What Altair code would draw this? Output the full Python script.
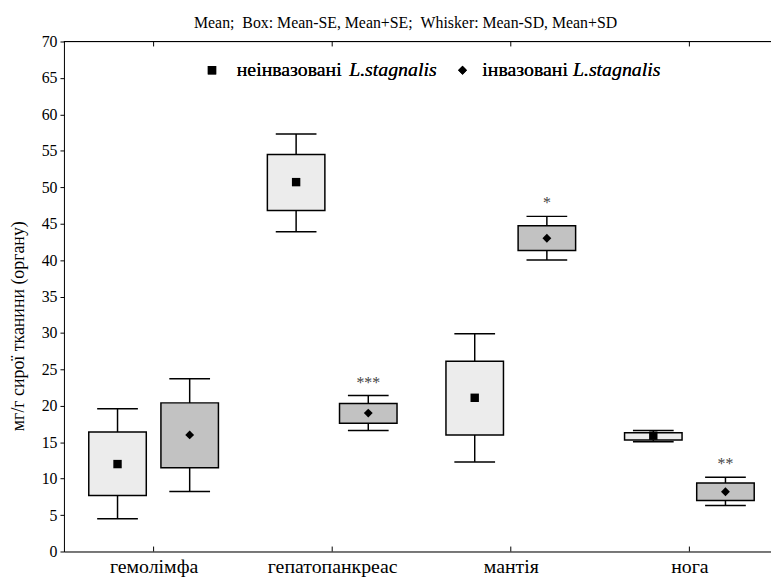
import json
import altair as alt
import pandas as pd

# ---------------- data ----------------
organs = ["гемолімфа", "гепатопанкреас", "мантія", "нога"]
groups = ["неінвазовані", "інвазовані"]

mean_n = [12.0, 50.7, 21.1, 15.9]
se_lo_n = [7.7, 46.8, 16.0, 15.3]
se_hi_n = [16.4, 54.5, 26.1, 16.3]
sd_lo_n = [4.5, 43.9, 12.3, 15.05]
sd_hi_n = [19.6, 57.3, 29.9, 16.6]

mean_i = [16.0, 19.0, 43.0, 8.2]
se_lo_i = [11.5, 17.6, 41.3, 7.0]
se_hi_i = [20.4, 20.3, 44.7, 9.4]
sd_lo_i = [8.25, 16.6, 40.0, 6.3]
sd_hi_i = [23.7, 21.4, 46.0, 10.2]

stars_n = ["", "", "", ""]
stars_i = ["", "***", "*", "**"]

# ---------------- layout constants ----------------
W, H = 714, 515
OFFSET = 0.202      # group offset from category centre (x units)
BOX_HALF = 0.161    # half box width (x units)
CAP_HALF = 0.114    # half whisker-cap width (x units)
XDOM = [-0.502, 3.457]
FONT = "Liberation Serif"

rows = []
for gi, (g, m, sl, sh, dl, dh, st) in enumerate([
    (groups[0], mean_n, se_lo_n, se_hi_n, sd_lo_n, sd_hi_n, stars_n),
    (groups[1], mean_i, se_lo_i, se_hi_i, sd_lo_i, sd_hi_i, stars_i),
]):
    sign = -1 if gi == 0 else 1
    for k, organ in enumerate(organs):
        xc = k + sign * OFFSET
        rows.append(dict(group=g, organ=organ, xc=xc,
                         bx0=xc - BOX_HALF, bx1=xc + BOX_HALF,
                         cx0=xc - CAP_HALF, cx1=xc + CAP_HALF,
                         mean=m[k], se_lo=sl[k], se_hi=sh[k],
                         sd_lo=dl[k], sd_hi=dh[k], star=st[k]))
df = pd.DataFrame(rows)
ticks_df = pd.DataFrame({"pos": list(range(len(organs)))})

xscale = alt.Scale(domain=XDOM, nice=False, zero=False)
yscale = alt.Scale(domain=[0, 70], nice=False)
label_expr = json.dumps(organs, ensure_ascii=False) + "[datum.value]"

xaxis = alt.Axis(values=list(range(len(organs))), labelExpr=label_expr, title=None,
                 grid=False, ticks=False, domainColor="black", domainWidth=1,
                 labelFont=FONT, labelFontSize=20, labelColor="black", labelPadding=5)
yaxis = alt.Axis(values=list(range(0, 71, 5)), tickCount=15, title="мг/г сирої тканини (органу)",
                 grid=False, tickSize=4, tickColor="black", domainColor="black",
                 labelOverlap=False,
                 labelFont=FONT, labelFontSize=16, labelColor="black", labelPadding=3,
                 titleFont=FONT, titleFontSize=18, titleFontWeight="normal",
                 titleColor="black", titlePadding=14, titleY=287)


def X(field):
    return alt.X(field, type="quantitative", scale=xscale, axis=xaxis)


def Y(field):
    return alt.Y(field, type="quantitative", scale=yscale, axis=yaxis)


base = alt.Chart(df)

whisker = base.mark_rule(color="black", strokeWidth=1.5).encode(
    x=X("xc"), y=Y("sd_lo"), y2="sd_hi:Q")
cap_hi = base.mark_rule(color="black", strokeWidth=1.5).encode(
    x=X("cx0"), x2="cx1:Q", y=Y("sd_hi"))
cap_lo = base.mark_rule(color="black", strokeWidth=1.5).encode(
    x=X("cx0"), x2="cx1:Q", y=Y("sd_lo"))

boxes = base.mark_rect(stroke="black", strokeWidth=1.5).encode(
    x=X("bx0"), x2="bx1:Q", y=Y("se_lo"), y2="se_hi:Q",
    fill=alt.Fill("group:N", scale=alt.Scale(domain=groups, range=["#ececec", "#c2c2c2"]),
                  legend=None),
)
points = base.mark_point(filled=True, opacity=1, color="black").encode(
    x=X("xc"), y=Y("mean"),
    shape=alt.Shape("group:N", scale=alt.Scale(domain=groups, range=["square", "diamond"]),
                    legend=None),
    size=alt.Size("group:N", scale=alt.Scale(domain=groups, range=[72, 80]), legend=None),
)
stars = base.mark_text(font=FONT, fontSize=16, color="#444444", baseline="middle", dy=-13).encode(
    x=X("xc"), y=Y("sd_hi"), text="star:N")

# frame: top line and inward ticks on top and bottom
top_line = alt.Chart(ticks_df).mark_rule(color="black", strokeWidth=1).encode(
    x=alt.value(0), x2=alt.value(W), y=alt.value(0))
top_ticks = alt.Chart(ticks_df).mark_rule(color="black", strokeWidth=1).encode(
    x=X("pos"), y=alt.value(0), y2=alt.value(5))
bot_ticks = alt.Chart(ticks_df).mark_rule(color="black", strokeWidth=1).encode(
    x=X("pos"), y=alt.value(H), y2=alt.value(H - 5))

# legend (inside the plot, top)
LY = 29
LFS = 20
leg_items = pd.DataFrame({"g": groups})
leg_sq = alt.Chart(leg_items).mark_point(filled=True, opacity=1, color="black", shape="square",
                                         size=72).encode(x=alt.value(149.5), y=alt.value(LY))
leg_dm = alt.Chart(leg_items).mark_point(filled=True, opacity=1, color="black", shape="diamond",
                                         size=80).encode(x=alt.value(402.5), y=alt.value(LY))
leg_t1 = alt.Chart(leg_items).mark_text(font=FONT, fontSize=LFS, align="left", baseline="middle",
                                        color="black", text=groups[0]).encode(
    x=alt.value(174.5), y=alt.value(LY))
leg_t1i = alt.Chart(leg_items).mark_text(font=FONT, fontSize=LFS, fontStyle="italic", align="left",
                                         baseline="middle", color="black", text="L.stagnalis").encode(
    x=alt.value(288), y=alt.value(LY))
leg_t2 = alt.Chart(leg_items).mark_text(font=FONT, fontSize=LFS, align="left", baseline="middle",
                                        color="black", text=groups[1]).encode(
    x=alt.value(422.5), y=alt.value(LY))
leg_t2i = alt.Chart(leg_items).mark_text(font=FONT, fontSize=LFS, fontStyle="italic", align="left",
                                         baseline="middle", color="black", text="L.stagnalis").encode(
    x=alt.value(514), y=alt.value(LY))

NB = "\u00a0"
title_text = f"Mean;{NB}{NB}Box: Mean-SE, Mean+SE;{NB}{NB}Whisker: Mean-SD, Mean+SD"

chart = alt.layer(
    whisker, cap_hi, cap_lo, boxes, points, stars,
    top_line, top_ticks, bot_ticks,
    leg_sq, leg_dm, leg_t1, leg_t1i, leg_t2, leg_t2i,
).properties(
    width=W, height=H,
    title=alt.Title(title_text,
                    font=FONT, fontSize=16, fontWeight="normal", color="black",
                    anchor="middle", dx=-12, offset=3),
    autosize=alt.AutoSizeParams(type="none"),
    padding={"left": 56.5, "top": 31, "right": 0, "bottom": 33},
).configure_view(stroke=None).configure(background="white")

chart.save("out.html", embed_options={"renderer": "svg", "actions": False})
